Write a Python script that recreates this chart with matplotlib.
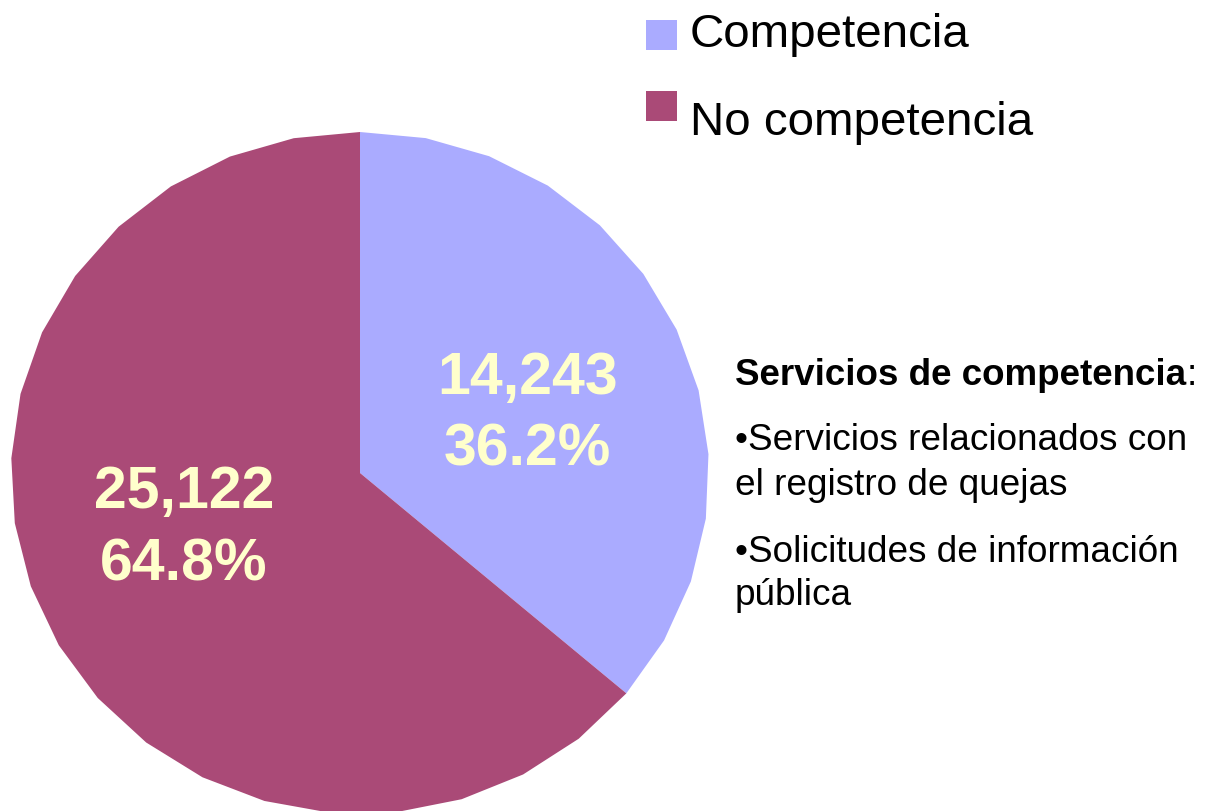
import numpy as np
import matplotlib
import matplotlib.pyplot as plt
from matplotlib.patches import Rectangle

matplotlib.use("Agg")

categories = ["Competencia", "No competencia"]
values = [14243, 25122]
value_labels = ["14,243", "25,122"]
pct_labels = ["36.2%", "64.8%"]
colors = ["#AAABFF", "#AA4A77"]

note_title = "Servicios de competencia"
note_items = [
    ["\u2022Servicios relacionados con", "el registro de quejas"],
    ["\u2022Solicitudes de información", "pública"],
]

W, H = 1207, 812
FONT = "Liberation Sans"


def fx(px):
    return px / W


def fy(py):
    return 1 - py / H


fig = plt.figure(figsize=(W / 100, H / 100), dpi=100)

# pie box: centre (360, 474) px, radius 349 x 341 px
cx, cy, rx, ry = 360, 474, 349, 341
ax = fig.add_axes([fx(cx - rx), fy(cy + ry), 2 * rx / W, 2 * ry / H])
ax.set_xlim(-1, 1)
ax.set_ylim(-1, 1)
ax.axis("off")

# faceted wedges, clockwise from 12 o'clock
fracs = np.array(values) / sum(values)
start = 90.0
label_pos = [(0.48, 0.175), (-0.505, -0.16)]
for frac, col, vl, pl, (lx, ly) in zip(fracs, colors, value_labels, pct_labels, label_pos):
    span = frac * 360
    n = int(round(span / 11))
    ang = np.radians(np.linspace(start, start - span, n + 1))
    xs = np.concatenate([[0], np.cos(ang), [0]])
    ys = np.concatenate([[0], np.sin(ang), [0]])
    ax.fill(xs, ys, color=col, lw=0)
    ax.text(lx, ly, vl + "\n" + pl, ha="center", va="center", fontsize=42.5,
            fontweight="bold", family=FONT, color="#FFFFCC", linespacing=1.4)
    start -= span

# legend
legend_rows = [(21, 47), (92, 135)]
for cat, col, (sq_top, base) in zip(categories, colors, legend_rows):
    fig.patches.append(Rectangle((fx(646), fy(sq_top + 30)), 31 / W, 30 / H,
                                 transform=fig.transFigure, color=col, lw=0))
    fig.text(fx(690), fy(base), cat, fontsize=34.2, family=FONT, va="baseline")

# side note
t = fig.text(fx(735), fy(385), note_title, fontsize=26.5, family=FONT,
             fontweight="bold", va="baseline")
fig.canvas.draw()
bb = t.get_window_extent()
fig.text(bb.x1 / W, fy(385), ":", fontsize=26.5, family=FONT, va="baseline")

baselines = [[450, 495], [562, 605]]
for lines, bls in zip(note_items, baselines):
    for line, b in zip(lines, bls):
        fig.text(fx(735), fy(b), line, fontsize=26.6, family=FONT, va="baseline")

fig.savefig("out.png", dpi=100)
